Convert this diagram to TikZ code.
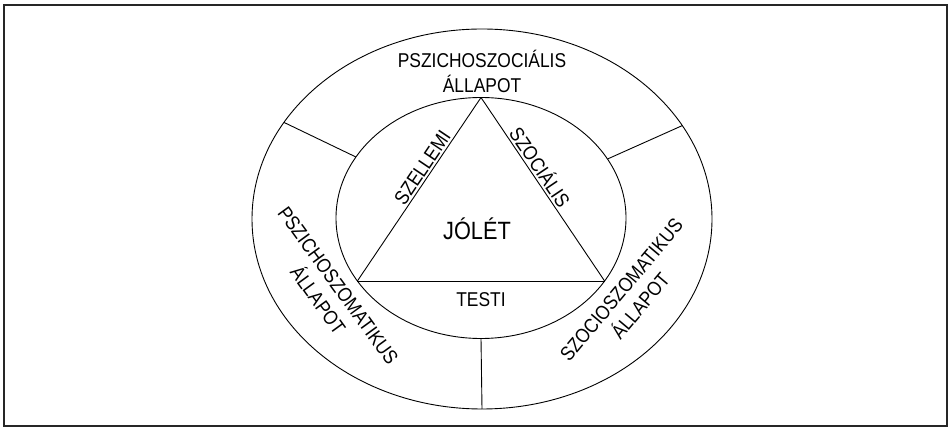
\documentclass[tikz,border=0pt]{standalone}
\usepackage{fontspec}
\setmainfont{Liberation Sans}[FakeStretch=0.87]
\usepackage{tikz}
\usetikzlibrary{shapes.geometric,positioning}

\begin{document}
\begin{tikzpicture}[
      x=1pt, y=1pt,
      ring/.style={ellipse, draw, line width=0.9pt, inner sep=0pt, outer sep=0pt},
      divider/.style={line width=0.9pt},
      lbl/.style={font=\fontsize{20}{25}\selectfont, align=center, inner sep=2pt},
      core/.style={font=\fontsize{25}{29}\selectfont, inner sep=0pt}
    ]
      \useasboundingbox (0,0) rectangle (950,428);

      % Frame
      \draw[line width=1.6pt, black!85] (4,2) rectangle (947,423);

      % Rings
      \node[ring, minimum width=460pt, minimum height=380pt] (outer) at (482,209) {};
      \node[ring, minimum width=290pt, minimum height=241pt] (inner) at (481,210) {};

      % Triangle corners
      \coordinate (apex) at (inner.north);
      \coordinate (bl) at (inner.207);
      \coordinate (br) at (inner.333);

      % Triangle with side labels
      \draw[divider] (bl) -- (apex) node[lbl, pos=0.59, sloped, above] (mind) {SZELLEMI};
      \draw[divider] (apex) -- (br) node[lbl, pos=0.41, sloped, above] (social) {SZOCIÁLIS};
      \draw[divider] (br) -- (bl);

      % Dividers
      \draw[divider] (inner.154) -- (outer.154);
      \draw[divider] (inner.25) -- (outer.25);
      \draw[divider] (inner.south) -- (outer.south);

      % Centre
      \node[core, anchor=base] (jolet) at (477,188) {JÓLÉT};
      \node[lbl, anchor=base, inner sep=0pt] (body) at (481,121) {TESTI};

      % Outer ring labels
      \node[lbl] (psoc) at (482,357) {PSZICHOSZOCIÁLIS\\ÁLLAPOT};
      \node[lbl, rotate=-54] (psom) at (328,135) {PSZICHOSZOMATIKUS\\ÁLLAPOT};
      \node[lbl, rotate=50] (ssom) at (631,130) {SZOCIOSZOMATIKUS\\ÁLLAPOT};
    \end{tikzpicture}
\end{document}
